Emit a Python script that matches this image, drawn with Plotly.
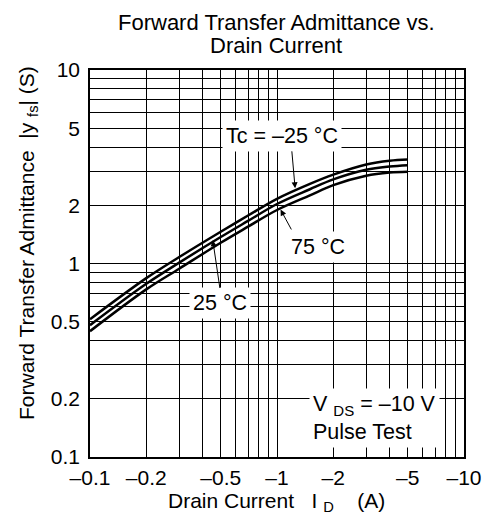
import math
import plotly.graph_objects as go

# Drain current magnitude |I_D| (A) (plotted as negative currents, labels carry the minus sign)
id_a = [0.1, 0.2, 0.3, 0.5, 0.7, 1.0, 1.5, 2.0, 3.0, 4.0, 5.0]
yfs_m25 = [0.515, 0.84, 1.08, 1.46, 1.77, 2.16, 2.58, 2.88, 3.25, 3.40, 3.45]
yfs_25 = [0.48, 0.785, 1.01, 1.37, 1.66, 2.03, 2.42, 2.72, 3.05, 3.17, 3.22]
yfs_75 = [0.447, 0.735, 0.94, 1.28, 1.55, 1.89, 2.25, 2.54, 2.84, 2.95, 2.98]

x_grid = [0.1, 0.2, 0.3, 0.4, 0.5, 0.6, 0.7, 0.8, 0.9, 1, 2, 3, 4, 5, 6, 7, 8, 9, 10]
x_labels = ['–0.1', '–0.2', '', '', '–0.5', '', '', '', '', '–1', '–2', '', '', '–5', '', '', '', '', '–10']
y_grid = [0.1, 0.2, 0.3, 0.4, 0.5, 0.6, 0.7, 0.8, 0.9, 1, 2, 3, 4, 5, 6, 7, 8, 9, 10]
y_labels = ['0.1', '0.2', '', '', '0.5', '', '', '', '', '1', '2', '', '', '5', '', '', '', '', '10']

FONT = "Liberation Sans, Arial, sans-serif"

fig = go.Figure()
for ys in (yfs_m25, yfs_25, yfs_75):
    fig.add_trace(go.Scatter(x=id_a, y=ys, mode="lines",
                             line=dict(color="black", width=2.5, shape="spline"),
                             showlegend=False, hoverinfo="skip"))

L, R, T, B = 90, 18, 70, 61
W, H = 494, 518
pw, ph = W - L - R, H - T - B


def px(xp):
    return (xp - L) / pw


def py(yp):
    return (H - B - yp) / ph


axis_common = dict(type="log", showgrid=True, gridcolor="black", gridwidth=1,
                   showline=True, linecolor="black", linewidth=1.5, mirror=True,
                   ticks="", zeroline=False,
                   tickfont=dict(family=FONT, size=21, color="black"))

fig.update_xaxes(range=[-1, 1], tickvals=x_grid, ticktext=x_labels, ticklabelstandoff=1, **axis_common)
fig.update_yaxes(range=[-1, 1], tickvals=y_grid, ticktext=y_labels, ticklabelstandoff=4, **axis_common)

ann_font = dict(family=FONT, size=21, color="black")
lab_font = dict(family=FONT, size=21.5, color="black")
title_font = dict(family=FONT, size=22, color="black")
NB = "\u00a0"
annotations = [
    dict(text="Forward Transfer Admittance vs.", x=px(282), y=py(22), xref="paper", yref="paper",
         showarrow=False, font=title_font, xanchor="center", yanchor="middle"),
    dict(text="Drain Current", x=px(282), y=py(45), xref="paper", yref="paper",
         showarrow=False, font=title_font, xanchor="center", yanchor="middle"),
    dict(text="Drain Current" + NB * 3 + "I" + NB + "<sub>D</sub>" + NB * 4 + "(A)",
         x=px(282), y=py(502), xref="paper", yref="paper",
         showarrow=False, font=ann_font, xanchor="center", yanchor="middle"),
    dict(text="Forward Transfer Admittance" + NB * 2 + "|y" + NB + "<sub>fs</sub>| (S)", x=px(26), y=py(243),
         xref="paper", yref="paper", textangle=-90,
         showarrow=False, font=ann_font, xanchor="center", yanchor="middle"),
    # labels with white background
    dict(text="Tc = –25 °C", x=px(288), y=py(136), xref="paper", yref="paper", showarrow=False,
         font=lab_font, bgcolor="white", borderpad=3, xanchor="center", yanchor="middle"),
    dict(text="75 °C", x=px(325), y=py(247), xref="paper", yref="paper", showarrow=False,
         font=lab_font, bgcolor="white", borderpad=3, xanchor="center", yanchor="middle"),
    dict(text="25 °C", x=px(224), y=py(303), xref="paper", yref="paper", showarrow=False,
         font=lab_font, bgcolor="white", borderpad=3, xanchor="center", yanchor="middle"),
    dict(text="V" + NB + "<sub>DS</sub> = –10 V<br>Pulse Test", x=px(316), y=py(418), xref="paper", yref="paper",
         showarrow=False, align="left", font=lab_font, bgcolor="white", borderpad=3,
         xanchor="left", yanchor="middle"),
]

arrows = [
    (1.25, 2.45, -3.4, -38.4),
    (1.045, 1.90, 11.6, 21.4),
    (0.4535, 1.32, 7.3, 49.3),
]
for xa, ya, dx, dy in arrows:
    annotations.append(dict(text="", x=math.log10(xa), y=math.log10(ya), xref="x", yref="y",
                            ax=dx, ay=dy, showarrow=True, arrowhead=2, arrowsize=1.2,
                            arrowwidth=1, arrowcolor="black"))

fig.update_layout(width=W, height=H, margin=dict(l=L, r=R, t=T, b=B),
                  paper_bgcolor="white", plot_bgcolor="white",
                  annotations=annotations, showlegend=False,
                  font=dict(family=FONT, color="black"))

fig.write_html("out.html", config={"displayModeBar": False},
               post_script="document.body.style.margin='0';document.body.style.overflow='hidden';")
